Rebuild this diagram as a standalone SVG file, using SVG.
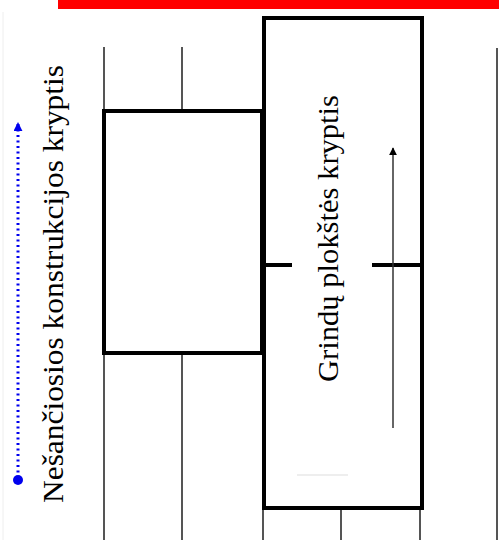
<svg xmlns="http://www.w3.org/2000/svg" width="499" height="540" viewBox="0 0 499 540">
<style>
.thin{stroke:#555;stroke-width:2;fill:none}
.thick{stroke:#000;stroke-width:4;fill:none}
.lbl{font-family:"Liberation Serif","Times New Roman",serif;font-size:30px;fill:#000}
</style>
<defs>
<marker id="ah" viewBox="0 0 10 10" refX="9" refY="5" markerWidth="8" markerHeight="10" orient="auto" markerUnits="userSpaceOnUse">
<path d="M0,0 L10,5 L0,10 z" fill="#000"/>
</marker>
<marker id="bh" viewBox="0 0 10 10" refX="9" refY="5" markerWidth="9" markerHeight="9" orient="auto" markerUnits="userSpaceOnUse">
<path d="M0,0 L10,5 L0,10 z" fill="#0000ee"/>
</marker>
</defs>
<rect width="499" height="540" fill="#fff"/>
<rect x="58" y="0" width="441" height="9" fill="#ff0000"/>
<line x1="3" y1="12" x2="3" y2="540" stroke="#eee" stroke-width="1"/>
<g id="grid">
<line class="thin" x1="104" y1="47" x2="104" y2="540"/>
<line class="thin" x1="182" y1="47" x2="182" y2="110"/>
<line class="thin" x1="182" y1="353" x2="182" y2="540"/>
<line class="thin" x1="263" y1="508" x2="263" y2="540"/>
<line class="thin" x1="341" y1="508" x2="341" y2="540"/>
<line class="thin" x1="420" y1="508" x2="420" y2="540"/>
<line class="thin" x1="497" y1="48" x2="497" y2="540"/>
<line x1="297" y1="475" x2="348" y2="475" stroke="#ddd" stroke-width="1"/>
</g>
<g id="left-panel">
<rect class="thick" x="104" y="111" width="158" height="242"/>
</g>
<g id="floor-slab">
<rect class="thick" x="264" y="18" width="158" height="490"/>
<line class="thick" x1="264" y1="265" x2="292" y2="265"/>
<line class="thick" x1="372" y1="265" x2="422" y2="265"/>
<text class="lbl" transform="translate(338,238.5) rotate(-90)" text-anchor="middle" textLength="287" lengthAdjust="spacingAndGlyphs">Grindų plokštės kryptis</text>
</g>
<g id="bearing-label">
<text class="lbl" transform="translate(63,284) rotate(-90)" text-anchor="middle" textLength="438" lengthAdjust="spacingAndGlyphs">Nešančiosios konstrukcijos kryptis</text>
</g>
<g id="connectors">
<line x1="393" y1="428" x2="393" y2="148" stroke="#333" stroke-width="1.5" marker-end="url(#ah)"/>
<line x1="18" y1="478" x2="18" y2="123" stroke="#0000ee" stroke-width="3" stroke-dasharray="2,3.5" marker-end="url(#bh)"/>
<circle cx="18" cy="480" r="5" fill="#0000ee"/>
</g>
</svg>
